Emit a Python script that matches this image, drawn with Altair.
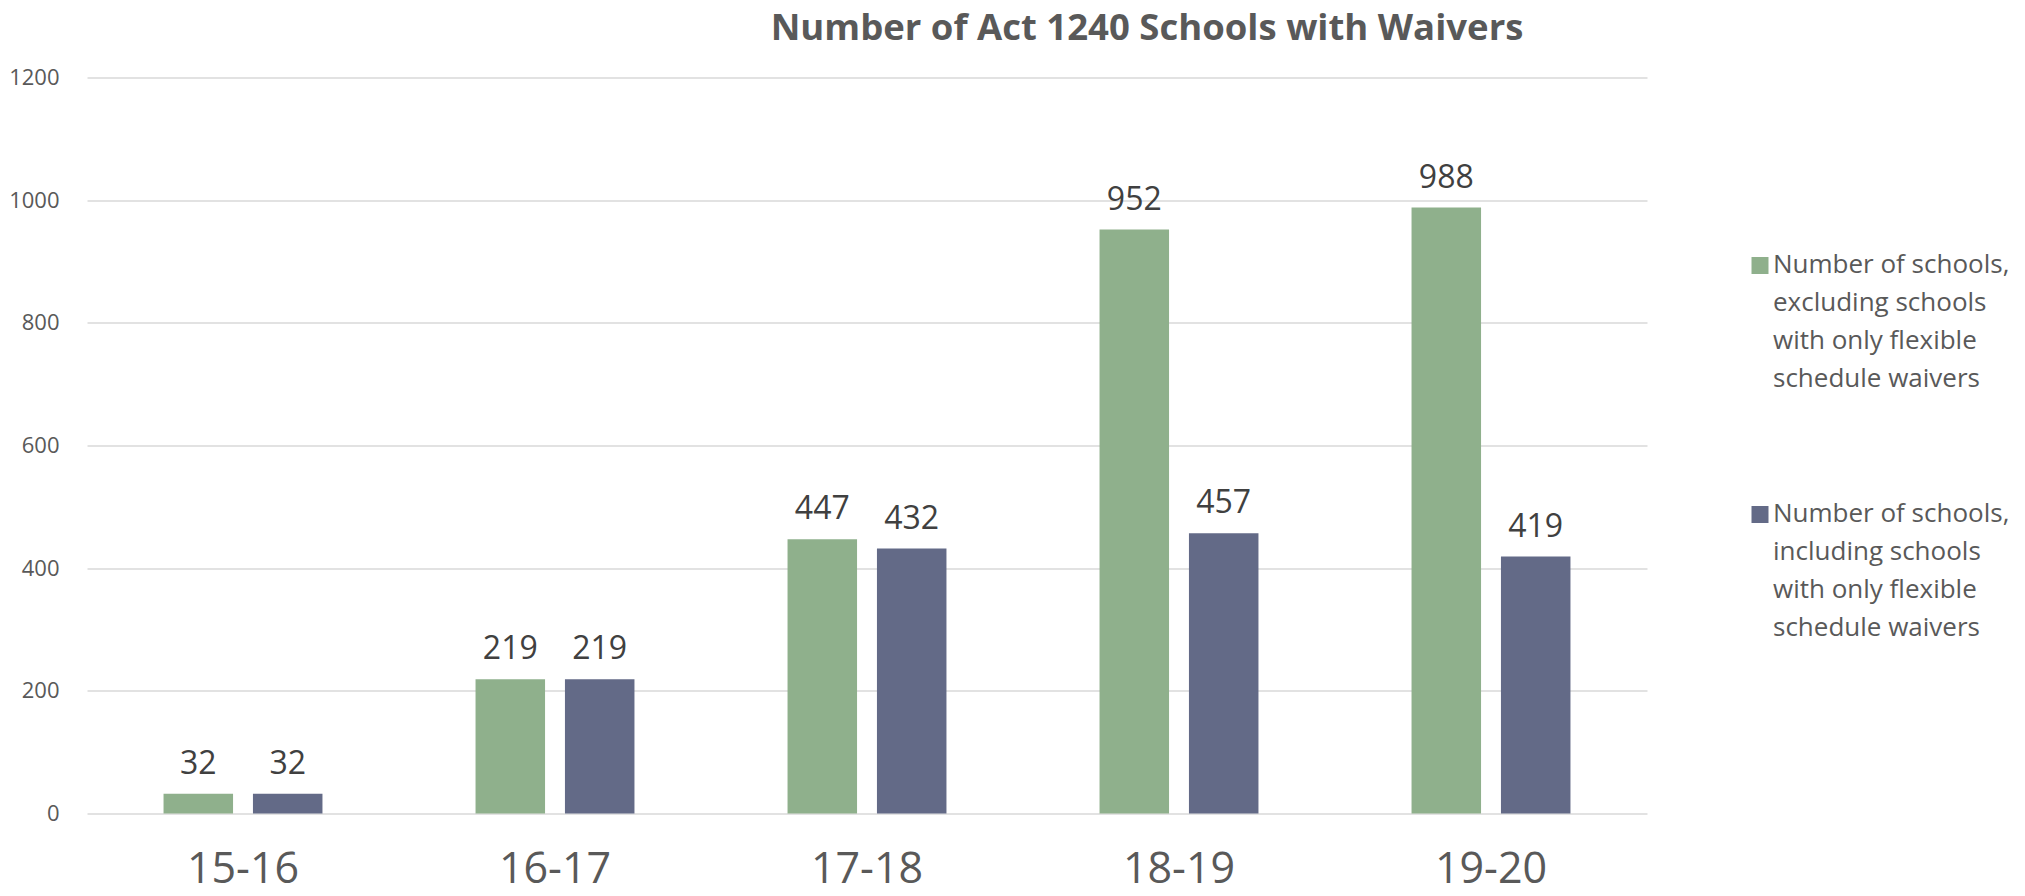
import altair as alt
import pandas as pd

# ---- data ----
years = ["15-16", "16-17", "17-18", "18-19", "19-20"]
series = [
    "Number of schools,\nexcluding schools\nwith only flexible\nschedule waivers",
    "Number of schools,\nincluding schools\nwith only flexible\nschedule waivers",
]
excluding = [32, 219, 447, 952, 988]
including = [32, 219, 432, 457, 419]
colors = ["#8FB08C", "#636A87"]
y_ticks = [0, 200, 400, 600, 800, 1000, 1200]

rows = []
for i, yr in enumerate(years):
    rows.append({"year": yr, "series": series[0], "value": excluding[i]})
    rows.append({"year": yr, "series": series[1], "value": including[i]})
df = pd.DataFrame(rows)

FONT = "Open Sans"

x = alt.X(
    "year:N",
    sort=years,
    scale=alt.Scale(paddingInner=0, paddingOuter=0),
    axis=alt.Axis(
        title=None, labelFontSize=43, labelColor="#595959", labelFont=FONT,
        ticks=False, domain=False, labelPadding=35, labelBaseline="top",
        labelAngle=0,
    ),
)
xoff = alt.XOffset(
    "series:N", sort=series,
    scale=alt.Scale(paddingInner=0.2226, paddingOuter=0.856),
)
y = alt.Y(
    "value:Q",
    scale=alt.Scale(domain=[0, 1200], nice=False),
    axis=alt.Axis(
        title=None, values=y_ticks, format="d", labelFontSize=22,
        labelColor="#595959", labelFont=FONT, ticks=False, domain=False,
        labelPadding=28, gridColor="#D9D9D9", gridWidth=1.3,
    ),
)
color = alt.Color(
    "series:N", sort=series,
    scale=alt.Scale(domain=series, range=colors),
    legend=alt.Legend(
        title=None, orient="none", legendX=1660, legendY=161,
        symbolType="M-1,0.65H1V2.65H-1Z", symbolSize=289, symbolStrokeWidth=0,
        labelFontSize=26, labelColor="#595959", labelFont=FONT,
        labelExpr="split(datum.label, '\\n')", labelLimit=400,
        labelOffset=0, labelBaseline="top", rowPadding=96, padding=0,
    ),
)

base = alt.Chart(df).encode(x=x, xOffset=xoff, y=y)
bars = base.mark_bar().encode(color=color)
labels = base.mark_text(
    baseline="alphabetic", dy=-20, fontSize=32, font=FONT, color="#404040"
).encode(text="value:Q")

chart = (
    alt.layer(bars, labels)
    .properties(
        width=1560, height=736,
        title=alt.TitleParams(
            "Number of Act 1240 Schools with Waivers",
            fontSize=36.5, font=FONT, fontWeight="bold", color="#595959",
            anchor="middle", dx=280, offset=19,
        ),
        autosize=alt.AutoSizeParams(type="none"),
        padding={"left": 79, "top": 69.5, "right": 370, "bottom": 82},
    )
    .configure(
        view=alt.ViewConfig(stroke=None),
        style={"guide-label": {"lineHeight": 38}},
    )
)

chart.save("out.html", embed_options={"renderer": "svg", "actions": False})
